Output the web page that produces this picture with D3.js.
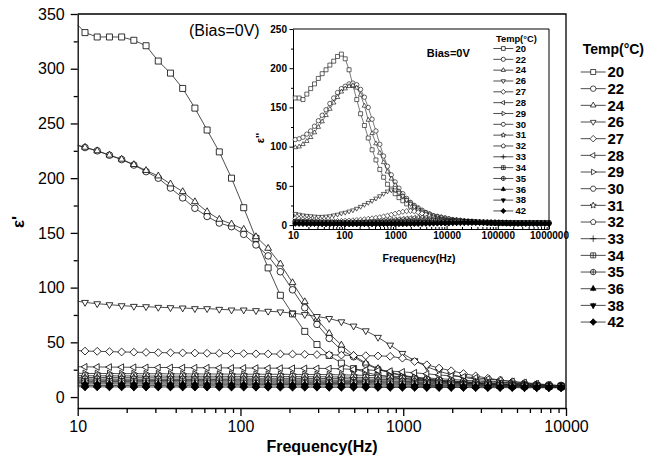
<!DOCTYPE html>
<html><head><meta charset="utf-8">
<script src="https://cdn.jsdelivr.net/npm/d3@7"></script>
<style>body{margin:0;background:#fff} text{font-family:"Liberation Sans",Arial,sans-serif}</style>
</head><body><svg id="c" width="647" height="459"></svg>
<script>
// ---------- data ----------
const temps = ["20","22","24","26","27","28","29","30","31","32","33","34","35","36","38","42"];
const freq = [10,11.09,13.18,15.67,18.62,22.13,26.30,31.26,37.15,44.16,52.48,62.37,74.13,88.10,104.7,124.5,147.9,175.8,208.9,248.3,295.1,350.8,416.9,495.5,588.8,699.8,831.8,988.6,1175,1396,1660,1972,2344,2786,3311,3936,4677,5559,6607,7852,9333,
11092,13183,15668,18621,22131,26303,31261,37154,44157,52481,62373,74131,88105,104713,124451,147911,175792,208930,248313,295121,350752,416869,495450,588844,699842,831764,988553];
const mainYTicks = [0,50,100,150,200,250,300,350];
const mainXTicks = [10,100,1000,10000];
const insetYTicks = [0,50,100,150,200,250];
const insetXTicks = [10,100,1000,10000,100000,1000000];

// main panel: epsilon' (41 points, 10 Hz .. 9.3 kHz)
const m20 = [340,333,329,329,329,326,321,307,296,282,264,244,224,200,173,145,118,93,76,60,48,38,31,26,22.5,20,18.5,17,16,15,14.3,13.6,13,12.5,12,11.5,11,10.7,10.4,10.2,10];
const m22 = [230,228,225,221,217,212,206,200,191,182,172.5,165,159,155.7,148.7,139,129,114.5,98,81.6,66.4,53.6,43,36.8,30,25.5,22,19.5,17.5,16,15,14,13.3,12.6,12,11.5,11,10.6,10.3,10,9.8];
const m24 = [230,228.2,225,221,217.3,212.4,207,202,194.7,187.7,178.5,169.4,162.4,158.1,153.3,146.5,135.9,121.6,104.5,87.1,71.3,58.2,47.5,38,31,26,22.5,20,18,16.5,15.3,14.3,13.5,12.8,12.2,11.7,11.2,10.8,10.5,10.2,10];
const m26 = [87.5,86.5,85.3,84.4,83.5,82.9,82.6,82,81.7,81.4,80.8,80.8,80.2,79.6,79.6,79,78.4,77.8,76.6,75.4,73.6,71.8,68.8,64.9,60.6,54.6,47.5,39.9,33.2,27.7,23.5,20.5,18,16.3,15,13.8,12.8,12,11.3,10.8,10.3];
const m27 = [42.5,42,41.8,41.5,41.2,41,40.8,40.6,40.5,40.3,40.2,40,40,39.8,39.7,39.5,39.4,39.3,39.2,39,38.8,38.6,38.3,38,37.8,37.6,37.2,35.5,32.5,29.5,26.5,24,21.5,19.3,17.2,15.5,14,12.8,11.8,11,10.4];
const m28 = [27.7,27.6,27.5,27.4,27.3,27.2,27.1,27,27,26.9,26.8,26.8,26.7,26.6,26.6,26.5,26.4,26.4,26.3,26.2,26.2,26.1,25.8,25.3,24.8,24.3,23.7,23,22.2,21.2,20.2,19.3,18.5,17.6,16.5,15.4,14.3,13.2,12.2,11.2,10.4];
const m29 = [21.8,21.6,21.5,21.5,21.4,21.4,21.3,21.3,21.2,21.2,21.1,21.1,21,21,20.9,20.9,20.8,20.8,20.7,20.7,20.6,20.5,20.3,20.1,19.8,19.5,19.1,18.6,18,17.4,16.8,16.1,15.4,14.7,14,13.3,12.6,12,11.4,10.9,10.4];
const m30 = [19.6,19.5,19.4,19.4,19.3,19.3,19.2,19.2,19.1,19.1,19,19,19,18.9,18.9,18.8,18.8,18.7,18.7,18.6,18.6,18.5,18.3,18.1,17.9,17.6,17.3,16.9,16.4,15.9,15.3,14.7,14.1,13.5,12.9,12.3,11.7,11.2,10.7,10.3,9.9];
const m31 = [18,17.9,17.8,17.8,17.7,17.7,17.6,17.6,17.5,17.5,17.4,17.4,17.4,17.3,17.3,17.2,17.2,17.1,17.1,17,17,16.9,16.8,16.6,16.4,16.2,15.9,15.6,15.2,14.8,14.3,13.8,13.3,12.8,12.3,11.8,11.3,10.9,10.5,10.1,9.7];
const m32 = [16.6,16.5,16.4,16.4,16.3,16.3,16.2,16.2,16.1,16.1,16,16,16,15.9,15.9,15.8,15.8,15.7,15.7,15.6,15.6,15.5,15.4,15.3,15.1,14.9,14.7,14.4,14.1,13.8,13.4,13,12.6,12.2,11.8,11.4,11,10.6,10.3,10,9.6];
const m33 = [15.5,15.4,15.4,15.3,15.3,15.2,15.2,15.1,15.1,15,15,15,14.9,14.9,14.8,14.8,14.7,14.7,14.6,14.6,14.5,14.5,14.4,14.3,14.2,14,13.8,13.6,13.3,13,12.7,12.4,12.1,11.8,11.5,11.2,10.9,10.6,10.3,10,9.5];
const m34 = [14.4,14.3,14.3,14.2,14.2,14.1,14.1,14,14,14,13.9,13.9,13.8,13.8,13.8,13.7,13.7,13.6,13.6,13.5,13.5,13.4,13.4,13.3,13.2,13.1,12.9,12.7,12.5,12.3,12.1,11.8,11.5,11.2,10.9,10.6,10.3,10.1,9.8,9.6,9.3];
const m35 = [13.2,13.1,13.1,13,13,13,12.9,12.9,12.9,12.8,12.8,12.8,12.7,12.7,12.7,12.6,12.6,12.6,12.5,12.5,12.5,12.4,12.4,12.3,12.2,12.1,12,11.8,11.6,11.4,11.2,11,10.8,10.6,10.4,10.2,10,9.8,9.6,9.4,9.1];
const m36 = [12.1,12,12,12,11.9,11.9,11.9,11.8,11.8,11.8,11.7,11.7,11.7,11.6,11.6,11.6,11.5,11.5,11.5,11.4,11.4,11.4,11.3,11.3,11.2,11.1,11,10.9,10.8,10.6,10.5,10.3,10.2,10,9.9,9.7,9.6,9.4,9.3,9.1,8.9];
const m38 = [10.7,10.6,10.6,10.6,10.5,10.5,10.5,10.5,10.4,10.4,10.4,10.4,10.3,10.3,10.3,10.3,10.2,10.2,10.2,10.2,10.1,10.1,10.1,10,10,9.9,9.9,9.8,9.7,9.7,9.6,9.5,9.4,9.3,9.3,9.2,9.1,9,8.9,8.8,8.7];
const m42 = [9.4,9.3,9.3,9.3,9.3,9.2,9.2,9.2,9.2,9.2,9.1,9.1,9.1,9.1,9.1,9,9,9,9,9,9,8.9,8.9,8.9,8.9,8.8,8.8,8.8,8.8,8.7,8.7,8.7,8.7,8.6,8.6,8.6,8.6,8.5,8.5,8.5,8.4];

// inset: epsilon'' (68 points, 10 Hz .. 1 MHz)
const i20 = [165,162,162,160,167,174,180,187,193,198,204,209,215,218,212,198,178,160,142,127,111,96,83,71,61,52,46,40,35,31,27,24,21,19,17,15,13,11,10,9,8,7,6,5.5,5,4.5,4.2,4,3.8,3.6,3.5,3.4,3.3,3.2,3.1,3,3,3,3,3,3,3,3,3,3,3,3,3];
const i22 = [107,109,110,112,116,120,126,133,140,147,155,162,169,174,177,180,181,179,173,163,150,135,120,103,88,75,64,55,47,40,34,29,25,22,19,16,14,12,11,10,9,8,7,6.5,6,5.5,5,4.7,4.4,4.2,4,3.8,3.7,3.6,3.5,3.4,3.3,3.2,3.2,3.1,3.1,3,3,3,3,3,3,3];
const i24 = [98,99,100,103,107,112,118,125,132,140,148,156,163,170,174,177,178,175,166,152,134,117,104,92,80,68,59,51,43,37,32,28,24,21,18,16,14,12,11,10,9,8,7,6.5,6,5.5,5,4.7,4.4,4.2,4,3.8,3.7,3.6,3.5,3.4,3.3,3.2,3.2,3.1,3.1,3,3,3,3,3,3,3];
const i26 = [16,14.5,13.5,12.5,12,11.5,11,10.7,10.7,11,11.5,12.5,13.5,15,16,17.5,19,21,23.5,26,28.5,31,34,37,40,43,44.5,44.5,41,37,32,27,23,19,16.5,14,12,10.5,9,8,7,6.5,6,5.5,5,4.8,4.6,4.4,4.2,4,3.9,3.8,3.7,3.6,3.5,3.4,3.3,3.2,3.2,3.1,3.1,3,3,3,3,3,3,3];
const i27 = [9,8.5,8,7.5,7,6.5,6,5.5,5.3,5,5,5,5,5.2,5.4,5.7,6,6.4,6.8,7.3,7.9,8.5,9.2,10,11,12,13.2,14.5,15.8,17,17.8,18,17.5,16.3,14.8,13,11.3,9.8,8.5,7.4,6.5,5.8,5.2,4.8,4.5,4.2,4,3.9,3.8,3.7,3.6,3.5,3.4,3.3,3.2,3.1,3,3,3,3,3,3,3,3,3,3,3,3];
const i28 = [6,5.8,5.5,5.2,5,4.8,4.6,4.4,4.2,4,3.9,3.8,3.8,3.8,3.8,3.9,4,4.1,4.3,4.5,4.7,5,5.3,5.6,6,6.4,6.8,7.2,7.7,8.2,8.7,9.2,9.6,9.9,10,9.8,9.3,8.6,7.8,7,6.3,5.6,5,4.6,4.2,3.9,3.7,3.5,3.4,3.3,3.2,3.1,3,3,3,2.9,2.9,2.9,2.8,2.8,2.8,2.8,2.8,2.8,2.8,2.8,2.8,2.8];
const i29 = [5,4.8,4.6,4.4,4.2,4,3.8,3.6,3.5,3.4,3.3,3.2,3.2,3.2,3.2,3.2,3.3,3.3,3.4,3.5,3.6,3.7,3.8,4,4.2,4.4,4.6,4.9,5.2,5.5,5.8,6.1,6.4,6.7,7,7.2,7.4,7.5,7.4,7.1,6.7,6.2,5.7,5.2,4.8,4.4,4.1,3.8,3.6,3.4,3.2,3.1,3,2.9,2.8,2.8,2.7,2.7,2.7,2.6,2.6,2.6,2.6,2.6,2.6,2.6,2.6,2.6];
const i30 = [4.5,4.3,4.1,3.9,3.7,3.5,3.4,3.3,3.2,3.1,3,3,3,3,3,3,3,3,3.1,3.1,3.2,3.2,3.3,3.4,3.5,3.6,3.7,3.8,4,4.2,4.4,4.6,4.8,5,5.2,5.4,5.6,5.8,5.9,6,6,5.8,5.5,5.1,4.7,4.3,4,3.7,3.5,3.3,3.1,3,2.9,2.8,2.7,2.6,2.6,2.5,2.5,2.5,2.5,2.5,2.5,2.5,2.5,2.5,2.5,2.5];
const i31 = [4,3.8,3.6,3.4,3.3,3.2,3.1,3,2.9,2.8,2.8,2.8,2.8,2.8,2.8,2.8,2.8,2.8,2.8,2.9,2.9,2.9,3,3,3.1,3.1,3.2,3.3,3.4,3.5,3.6,3.7,3.8,3.9,4.1,4.3,4.5,4.7,4.9,5.1,5.2,5.3,5.2,5,4.7,4.4,4.1,3.8,3.5,3.3,3.1,2.9,2.8,2.7,2.6,2.5,2.5,2.4,2.4,2.4,2.4,2.4,2.4,2.4,2.4,2.4,2.4,2.4];
const i32 = [3.6,3.4,3.2,3.1,3,2.9,2.8,2.7,2.6,2.6,2.6,2.6,2.6,2.6,2.6,2.6,2.6,2.6,2.6,2.6,2.6,2.7,2.7,2.7,2.8,2.8,2.9,2.9,3,3.1,3.2,3.3,3.4,3.5,3.6,3.7,3.9,4.1,4.3,4.5,4.6,4.7,4.8,4.8,4.7,4.5,4.2,3.9,3.6,3.4,3.2,3,2.8,2.7,2.6,2.5,2.4,2.3,2.3,2.3,2.3,2.3,2.3,2.3,2.3,2.3,2.3,2.3];
const i33 = [3.3,3.1,3,2.9,2.8,2.7,2.6,2.5,2.5,2.4,2.4,2.4,2.4,2.4,2.4,2.4,2.4,2.4,2.4,2.4,2.4,2.4,2.5,2.5,2.5,2.6,2.6,2.6,2.7,2.7,2.8,2.9,3,3.1,3.2,3.3,3.4,3.5,3.7,3.9,4.1,4.2,4.3,4.4,4.4,4.3,4.1,3.9,3.6,3.4,3.2,3,2.8,2.6,2.5,2.4,2.3,2.2,2.2,2.2,2.2,2.2,2.2,2.2,2.2,2.2,2.2,2.2];
const i34 = [3,2.9,2.8,2.7,2.6,2.5,2.4,2.3,2.3,2.2,2.2,2.2,2.2,2.2,2.2,2.2,2.2,2.2,2.2,2.2,2.2,2.2,2.2,2.3,2.3,2.3,2.4,2.4,2.4,2.5,2.5,2.6,2.7,2.8,2.9,3,3.1,3.2,3.3,3.5,3.7,3.8,4,4.1,4.1,4,3.9,3.7,3.5,3.3,3.1,2.9,2.7,2.6,2.5,2.4,2.3,2.2,2.1,2.1,2.1,2.1,2.1,2.1,2.1,2.1,2.1,2.1];
const i35 = [2.8,2.7,2.6,2.5,2.4,2.3,2.2,2.1,2.1,2,2,2,2,2,2,2,2,2,2,2,2,2,2,2,2.1,2.1,2.1,2.2,2.2,2.2,2.3,2.3,2.4,2.5,2.6,2.7,2.8,2.9,3,3.1,3.3,3.5,3.6,3.7,3.8,3.8,3.7,3.6,3.4,3.2,3,2.8,2.7,2.5,2.4,2.3,2.2,2.1,2,2,2,2,2,2,2,2,2,2];
const i36 = [2.5,2.4,2.3,2.2,2.1,2,1.9,1.9,1.8,1.8,1.8,1.8,1.8,1.8,1.8,1.8,1.8,1.8,1.8,1.8,1.8,1.8,1.8,1.8,1.8,1.9,1.9,1.9,2,2,2,2.1,2.1,2.2,2.3,2.4,2.5,2.6,2.7,2.8,2.9,3.1,3.2,3.3,3.4,3.5,3.5,3.4,3.3,3.1,2.9,2.7,2.6,2.4,2.3,2.2,2.1,2,1.9,1.9,1.9,1.9,1.9,1.9,1.9,1.9,1.9,1.9];
const i38 = [2.2,2.1,2,1.9,1.8,1.7,1.7,1.6,1.6,1.6,1.6,1.6,1.6,1.6,1.6,1.6,1.6,1.6,1.6,1.6,1.6,1.6,1.6,1.6,1.6,1.6,1.7,1.7,1.7,1.7,1.8,1.8,1.9,1.9,2,2.1,2.2,2.3,2.4,2.5,2.6,2.7,2.8,2.9,3,3.1,3.2,3.2,3.1,3,2.8,2.6,2.5,2.3,2.2,2.1,2,1.9,1.8,1.8,1.8,1.8,1.8,1.8,1.8,1.8,1.8,1.8];
const i42 = [1.8,1.7,1.6,1.5,1.5,1.4,1.4,1.4,1.3,1.3,1.3,1.3,1.3,1.3,1.3,1.3,1.3,1.3,1.3,1.3,1.3,1.3,1.3,1.3,1.3,1.3,1.4,1.4,1.4,1.4,1.4,1.5,1.5,1.6,1.6,1.7,1.7,1.8,1.9,2,2.1,2.2,2.3,2.4,2.5,2.6,2.7,2.8,2.8,2.8,2.7,2.6,2.4,2.3,2.1,2,1.9,1.8,1.7,1.7,1.7,1.7,1.7,1.7,1.7,1.7,1.7,1.7];

const mainSeries = [m20,m22,m24,m26,m27,m28,m29,m30,m31,m32,m33,m34,m35,m36,m38,m42];
const insetSeries = [i20,i22,i24,i26,i27,i28,i29,i30,i31,i32,i33,i34,i35,i36,i38,i42];

// ---------- styles ----------
const shapes = ["square","circle","triUp","triDown","diamond","triLeft","triRight","hexagon","star","pentagon","plus","squarePlus","circlePlus","triUpFill","triDownFill","diamondFill"];

function poly(n,R,a0){const p=[];for(let i=0;i<n;i++){const a=a0+i*2*Math.PI/n;p.push((R*Math.cos(a)).toFixed(2)+","+(R*Math.sin(a)).toFixed(2));}return "M"+p.join("L")+"Z";}
function circ(r){return `M${r},0A${r},${r} 0 1,1 ${-r},0A${r},${r} 0 1,1 ${r},0Z`;}
function starP(R){const p=[];for(let i=0;i<10;i++){const a=-Math.PI/2+i*Math.PI/5;const rr=i%2?R*0.45:R;p.push((rr*Math.cos(a)).toFixed(2)+","+(rr*Math.sin(a)).toFixed(2));}return "M"+p.join("L")+"Z";}
function symPath(t,r){
  const T=r*1.3;
  const plus=(a)=>`M${-a},0H${a}M0,${-a}V${a}`;
  switch(t){
    case "square": return `M${-r},${-r}H${r}V${r}H${-r}Z`;
    case "circle": return circ(r*1.1);
    case "triUp": return poly(3,T,-Math.PI/2);
    case "triDown": return poly(3,T,Math.PI/2);
    case "diamond": return poly(4,T,-Math.PI/2);
    case "triLeft": return poly(3,T,Math.PI);
    case "triRight": return poly(3,T,0);
    case "hexagon": return poly(6,r*1.15,0);
    case "star": return starP(T);
    case "pentagon": return poly(5,r*1.15,-Math.PI/2);
    case "plus": return plus(T);
    case "squarePlus": return `M${-r},${-r}H${r}V${r}H${-r}Z`+plus(r);
    case "circlePlus": return circ(r*1.1)+plus(r*1.1);
    case "triUpFill": return poly(3,T,-Math.PI/2)+`M0,${-T}V${T*0.8}`;
    case "triDownFill": return poly(3,T,Math.PI/2)+`M0,${T}V${-T*0.8}`;
    case "diamondFill": return poly(4,T,-Math.PI/2)+plus(T);
  }
}
function symFill(t){ if(t==="plus") return "none"; if(t.endsWith("Fill")) return "#000"; return "#fff"; }

const svg = d3.select("#c");
svg.append("rect").attr("width",647).attr("height",459).attr("fill","#fff");

// ---------- main panel ----------
const mx = d3.scaleLog().domain([10,10000]).range([77.7,566]);
const my = d3.scaleLinear().domain([-10,350]).range([408,14]);

const fmt = d3.format("d");
const minorY = d3.range(25,350,50);
const minorX = [];
[10,100,1000].forEach(b=>{for(let m=2;m<10;m++) minorX.push(b*m);});

const gx = svg.append("g").attr("transform","translate(0,408)");
gx.call(d3.axisBottom(mx).tickValues(mainXTicks).tickFormat(fmt).tickSize(8).tickSizeOuter(0).tickPadding(5));
gx.append("g").call(d3.axisBottom(mx).tickValues(minorX).tickFormat("").tickSize(5).tickSizeOuter(0)).select(".domain").remove();
const gy = svg.append("g").attr("transform","translate(77.7,0)");
gy.call(d3.axisLeft(my).tickValues(mainYTicks).tickSize(7).tickSizeOuter(0).tickPadding(6));
gy.append("g").call(d3.axisLeft(my).tickValues(minorY).tickFormat("").tickSize(4).tickSizeOuter(0)).select(".domain").remove();
[gx,gy].forEach(g=>{g.selectAll("path,line").attr("stroke","#000").attr("stroke-width",1.3);
  g.selectAll("text").attr("fill","#000").attr("font-size",16).attr("font-family","Liberation Sans, Arial, sans-serif");});
svg.append("path").attr("d",`M77.7,14H566V408`).attr("fill","none").attr("stroke","#000").attr("stroke-width",1.3);

const mline = d3.line().x((d,i)=>mx(freq[i])).y(d=>my(d));
mainSeries.forEach((s,si)=>{
  svg.append("path").attr("d",mline(s)).attr("fill","none").attr("stroke","#222").attr("stroke-width",0.8);
  const t=shapes[si];
  svg.append("g").selectAll("path").data(s.slice(1)).join("path")
    .attr("transform",(d,i)=>`translate(${mx(freq[i+1])},${my(d)})`)
    .attr("d",symPath(t,3)).attr("fill",symFill(t)).attr("stroke","#000").attr("stroke-width",0.8);
});

svg.append("text").attr("x",189).attr("y",36).attr("font-size",16).text("(Bias=0V)");
svg.append("text").attr("x",322).attr("y",452).attr("text-anchor","middle").attr("font-size",16).attr("font-weight","bold").text("Frequency(Hz)");
svg.append("text").attr("transform","translate(24,222) rotate(-90)").attr("text-anchor","middle").attr("font-size",17).attr("font-weight","bold").text("ε'");

// main legend
svg.append("text").attr("x",582.7).attr("y",54).attr("font-size",14).attr("font-weight","bold").text("Temp(°C)");
temps.forEach((tp,i)=>{
  const y=72+16.67*i, t=shapes[i];
  svg.append("line").attr("x1",580.7).attr("x2",605.7).attr("y1",y).attr("y2",y).attr("stroke","#000").attr("stroke-width",0.7);
  svg.append("path").attr("transform",`translate(593.2,${y})`).attr("d",symPath(t,2.5)).attr("fill",symFill(t)).attr("stroke","#000").attr("stroke-width",0.7);
  svg.append("text").attr("x",607.5).attr("y",y).attr("dy","0.36em").attr("font-size",15).attr("font-weight","bold").text(tp);
});

// ---------- inset ----------
const ix = d3.scaleLog().domain([10,1e6]).range([293,549]);
const iy = d3.scaleLinear().domain([-5,250]).range([229,29]);
svg.append("rect").attr("x",293).attr("y",29).attr("width",256).attr("height",200).attr("fill","#fff");

const iMinorX=[];
[10,100,1000,10000,100000].forEach(b=>{for(let m=2;m<10;m++) iMinorX.push(b*m);});
const iMinorY = d3.range(25,250,50);
const igx = svg.append("g").attr("transform","translate(0,229)");
igx.call(d3.axisBottom(ix).tickValues(insetXTicks).tickFormat(fmt).tickSize(-3.5).tickSizeOuter(0).tickPadding(3));
igx.append("g").call(d3.axisBottom(ix).tickValues(iMinorX).tickFormat("").tickSize(-2).tickSizeOuter(0)).select(".domain").remove();
const igy = svg.append("g").attr("transform","translate(293,0)");
igy.call(d3.axisLeft(iy).tickValues(insetYTicks).tickSize(3.5).tickSizeOuter(0).tickPadding(2.5));
igy.append("g").call(d3.axisLeft(iy).tickValues(iMinorY).tickFormat("").tickSize(2).tickSizeOuter(0)).select(".domain").remove();
[igx,igy].forEach(g=>{g.selectAll("path,line").attr("stroke","#000").attr("stroke-width",1);
  g.selectAll("text").attr("fill","#000").attr("font-size",10).attr("font-weight","bold").attr("font-family","Liberation Sans, Arial, sans-serif");});
svg.append("path").attr("d",`M293,29H549V229`).attr("fill","none").attr("stroke","#000").attr("stroke-width",1);

const iline = d3.line().x((d,i)=>ix(freq[i])).y(d=>iy(d));
insetSeries.forEach((s,si)=>{
  svg.append("path").attr("d",iline(s)).attr("fill","none").attr("stroke","#222").attr("stroke-width",0.6);
  const t=shapes[si];
  svg.append("g").selectAll("path").data(s.slice(1)).join("path")
    .attr("transform",(d,i)=>`translate(${ix(freq[i+1])},${iy(d)})`)
    .attr("d",symPath(t,2)).attr("fill",symFill(t)).attr("stroke","#000").attr("stroke-width",0.6);
});

svg.append("text").attr("x",426.7).attr("y",56.5).attr("font-size",11).attr("font-weight","bold").text("Bias=0V");
svg.append("text").attr("x",419).attr("y",262).attr("text-anchor","middle").attr("font-size",10.5).attr("font-weight","bold").text("Frequency(Hz)");
svg.append("text").attr("transform","translate(264,138) rotate(-90)").attr("text-anchor","middle").attr("font-size",11).attr("font-weight","bold").text("ε''");

svg.append("text").attr("x",496).attr("y",41.5).attr("font-size",9.3).attr("font-weight","bold").text("Temp(°C)");
temps.forEach((tp,i)=>{
  const y=48.5+10.83*i, t=shapes[i];
  svg.append("line").attr("x1",493.3).attr("x2",513.3).attr("y1",y).attr("y2",y).attr("stroke","#000").attr("stroke-width",0.7);
  svg.append("path").attr("transform",`translate(503.3,${y})`).attr("d",symPath(t,1.9)).attr("fill",symFill(t)).attr("stroke","#000").attr("stroke-width",0.7);
  svg.append("text").attr("x",515.5).attr("y",y).attr("dy","0.34em").attr("font-size",9.5).attr("font-weight","bold").text(tp);
});
</script>
</body></html>
